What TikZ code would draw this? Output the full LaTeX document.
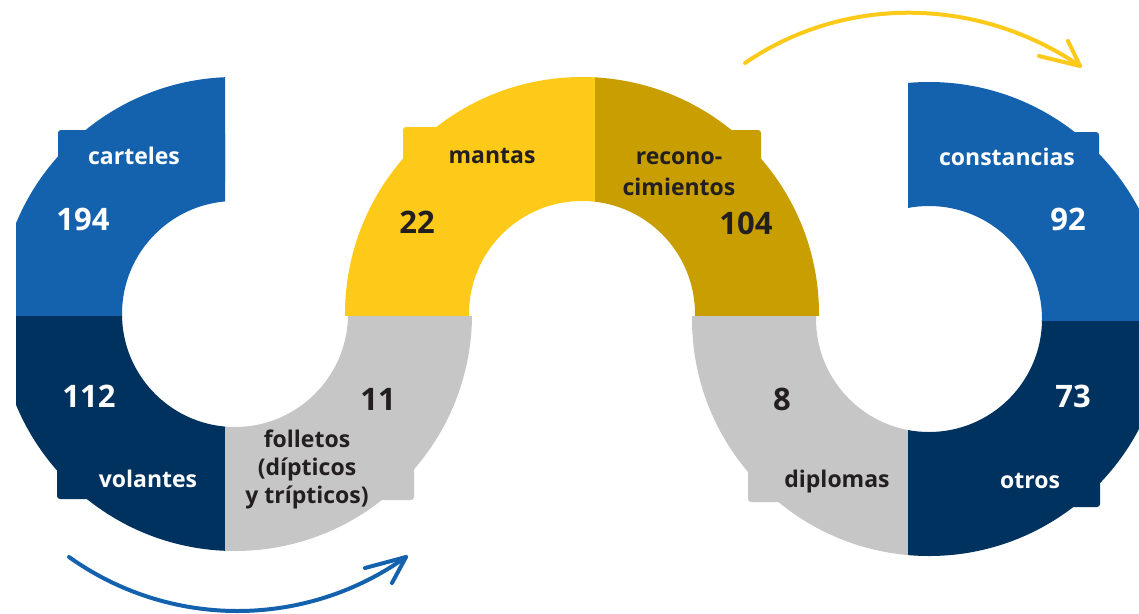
\documentclass[tikz,border=0pt]{standalone}
\usepackage{fontspec}
\setmainfont{Open Sans}
\definecolor{cblue}{HTML}{1462AE}
\definecolor{cnavy}{HTML}{00325F}
\definecolor{cyellow}{HTML}{FECA1A}
\definecolor{cgold}{HTML}{C99E00}
\definecolor{cgray}{HTML}{C6C6C6}
\definecolor{ctext}{HTML}{231F20}
\begin{document}
\begin{tikzpicture}[x=1pt,y=-1pt,
  lbl/.style={font=\fontsize{23}{28}\selectfont\bfseries, inner sep=0pt, anchor=base},
  num/.style={font=\fontsize{31}{36}\selectfont\bfseries, inner sep=0pt, anchor=base},
  arr/.style={line width=4pt, line cap=round, line join=round},
  tab/.style={rounded corners=3pt}]
\useasboundingbox (0,0) rectangle (1139,613);
\clip (0,0) rectangle (1139,613);
\coordinate (c1) at (235,314);
\coordinate (c2) at (582,314);
\coordinate (c3) at (929,319);
% ring 1
\begin{scope}
\clip (16,0) rectangle (225,316);
\fill[cblue, even odd rule] (c1) circle (237) (c1) circle (113);
\end{scope}
\fill[cblue, tab] (58,130) rectangle (225,185);
\begin{scope}
\clip (16,316) rectangle (225,613);
\fill[cnavy, even odd rule] (c1) circle (237) (c1) circle (113);
\end{scope}
\fill[cnavy, tab] (57,445) rectangle (225,499);
\begin{scope}
\clip (225,316) rectangle (480,613);
\fill[cgray, even odd rule] (c1) circle (237) (c1) circle (113);
\end{scope}
\fill[cgray, tab] (225,445) rectangle (414,500);
% ring 2
\begin{scope}
\clip (340,0) rectangle (595,315.5);
\fill[cyellow, even odd rule] (c2) circle (237) (c2) circle (113);
\end{scope}
\fill[cyellow, tab] (403,127) rectangle (595,185);
\begin{scope}
\clip (595,0) rectangle (830,315.5);
\fill[cgold, even odd rule] (c2) circle (237) (c2) circle (113);
\end{scope}
\fill[cgold, tab] (595,130) rectangle (761,185);
% ring 3
\begin{scope}
\clip (680,316) rectangle (908,613);
\fill[cgray, even odd rule] (c3) circle (237) (c3) circle (113);
\end{scope}
\fill[cgray, tab] (748,445) rectangle (908,502);
\begin{scope}
\clip (908,320) rectangle (1139,613);
\fill[cnavy, even odd rule] (c3) circle (237) (c3) circle (113);
\end{scope}
\fill[cnavy, tab] (908,450) rectangle (1100,507);
\begin{scope}
\clip (908,0) rectangle (1139,320);
\fill[cblue, even odd rule] (c3) circle (237) (c3) circle (113);
\end{scope}
\fill[cblue, tab] (908,132) rectangle (1099,190);
% labels
\node[lbl, white] (carteles) at (134,164) {carteles};
\node[num, white] (n194) at (83,230) {194};
\node[num, white] (n112) at (89,407) {112};
\node[lbl, white] (volantes) at (148,487) {volantes};
\node[num, ctext] (n11) at (378,410) {11};
\node[lbl, ctext] (folletos1) at (307,447) {folletos};
\node[lbl, ctext] (folletos2) at (307,475) {(dípticos};
\node[lbl, ctext] (folletos3) at (307,503) {y trípticos)};
\node[lbl, ctext] (mantas) at (492,163) {mantas};
\node[num, ctext] (n22) at (417,233) {22};
\node[lbl, ctext] (recono1) at (679,164) {recono-};
\node[lbl, ctext] (recono2) at (679,195) {cimientos};
\node[num, ctext] (n104) at (746,234) {104};
\node[num, ctext] (n8) at (782,410) {8};
\node[lbl, ctext] (diplomas) at (837,487) {diplomas};
\node[lbl, white] (constancias) at (1007,165) {constancias};
\node[num, white] (n92) at (1068,230) {92};
\node[num, white] (n73) at (1073,407) {73};
\node[lbl, white] (otros) at (1030,488) {otros};
% arrows
\coordinate (bs) at (69,557);
\coordinate (be) at (406,557);
\coordinate (bh1) at (365,568);
\coordinate (bh2) at (392,583);
\draw[arr, cblue] (bs) .. controls (170,629) and (305,629) .. (be);
\draw[arr, cblue] (bh1) -- (be) -- (bh2);
\coordinate (ys) at (745,63);
\coordinate (ye) at (1080,66);
\coordinate (yh1) at (1039,56);
\coordinate (yh2) at (1068,41);
\draw[arr, cyellow] (ys) .. controls (846,-6) and (979,-3) .. (ye);
\draw[arr, cyellow] (yh1) -- (ye) -- (yh2);
\end{tikzpicture}
\end{document}
